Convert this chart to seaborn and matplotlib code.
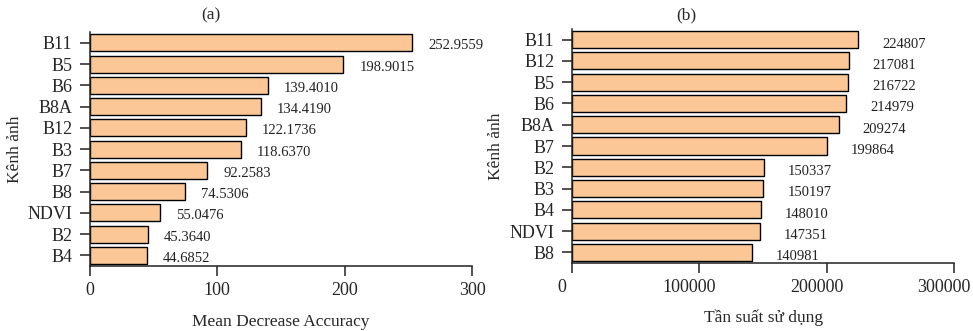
import matplotlib
matplotlib.use("Agg")
import matplotlib.pyplot as plt
import matplotlib.transforms as mtransforms
import seaborn as sns
import pandas as pd

# Mean Decrease Accuracy per band
bands_a = ["B11", "B5", "B6", "B8A", "B12", "B3", "B7", "B8", "NDVI", "B2", "B4"]
mda_values = [252.9559, 198.9015, 139.4010, 134.4190, 122.1736, 118.6370,
              92.2583, 74.5306, 55.0476, 45.3640, 44.6852]
mda_labels = ["252.9559", "198.9015", "139.4010", "134.4190", "122.1736", "118.6370",
              "92.2583", "74.5306", "55.0476", "45.3640", "44.6852"]

# Usage frequency per band
bands_b = ["B11", "B12", "B5", "B6", "B8A", "B7", "B2", "B3", "B4", "NDVI", "B8"]
freq_values = [224807, 217081, 216722, 214979, 209274, 199864,
               150337, 150197, 148010, 147351, 140981]

xticks_a = [0, 100, 200, 300]
xticks_b = [0, 100000, 200000, 300000]

sns.set_style("ticks")
plt.rcParams["font.family"] = ["Liberation Serif", "DejaVu Serif"]
plt.rcParams["axes.linewidth"] = 1.1
plt.rcParams["axes.edgecolor"] = "#222222"

BAR_COLOR = "#fbc796"
TICK_FS = 13
LABEL_FS = 12.5
VAL_FS = 10.5

fig = plt.figure(figsize=(9.73, 3.31), dpi=100)
ax_a = fig.add_axes([0.0925, 0.196, 0.3926, 0.707])
ax_b = fig.add_axes([0.588, 0.2054, 0.3926, 0.707])

df_a = pd.DataFrame({"band": bands_a, "value": mda_values})
df_b = pd.DataFrame({"band": bands_b, "value": freq_values})

sns.barplot(data=df_a, x="value", y="band", order=bands_a, orient="h",
            color=BAR_COLOR, saturation=1, edgecolor="black", linewidth=1.0,
            width=0.8, ax=ax_a)
sns.barplot(data=df_b, x="value", y="band", order=bands_b, orient="h",
            color=BAR_COLOR, saturation=1, edgecolor="black", linewidth=1.0,
            width=0.8, ax=ax_b)

# value annotations beside each bar
for i, (v, lab) in enumerate(zip(mda_values, mda_labels)):
    ax_a.annotate(lab, xy=(v, i), xytext=(11.5, -2.2), textcoords="offset points",
                  ha="left", va="center", fontsize=VAL_FS, color="#222222")
for i, v in enumerate(freq_values):
    ax_b.annotate(str(v), xy=(v, i), xytext=(17.3, -3.2), textcoords="offset points",
                  ha="left", va="center", fontsize=VAL_FS, color="#222222")

for ax, ticks, xlabel in [(ax_a, xticks_a, "Mean Decrease Accuracy"),
                          (ax_b, xticks_b, "Tần suất sử dụng")]:
    ax.set_xlim(ticks[0], ticks[-1])
    ax.set_xticks(ticks)
    ax.set_ylim(10.5, -0.5)
    ax.set_xlabel(xlabel, fontsize=LABEL_FS)
    ax.set_ylabel("Kênh ảnh", fontsize=LABEL_FS)
    ax.tick_params(axis="x", length=7.5, width=1.1, pad=4.0, labelsize=TICK_FS,
                   color="#222222")
    ax.tick_params(axis="y", length=7.2, width=1.1, pad=5.5, labelsize=TICK_FS,
                   color="#222222")
    ax.spines["top"].set_visible(False)
    ax.spines["right"].set_visible(False)

ax_a.xaxis.set_label_coords(0.5, -0.203)
ax_b.xaxis.set_label_coords(0.5, -0.199)
ax_a.yaxis.set_label_coords(-0.175, 0.5)
ax_b.yaxis.set_label_coords(-0.178, 0.5)

# tick labels of the right panel sit slightly left of their ticks
shift = mtransforms.ScaledTranslation(-10 / 100, 0, fig.dpi_scale_trans)
for lbl in ax_b.get_xticklabels():
    lbl.set_transform(lbl.get_transform() + shift)

fig.text(211 / 973, 1 - 15 / 331, "(a)", ha="center", va="center", fontsize=LABEL_FS)
fig.text(686 / 973, 1 - 15 / 331, "(b)", ha="center", va="center", fontsize=LABEL_FS)

fig.savefig("out.png", dpi=100)
